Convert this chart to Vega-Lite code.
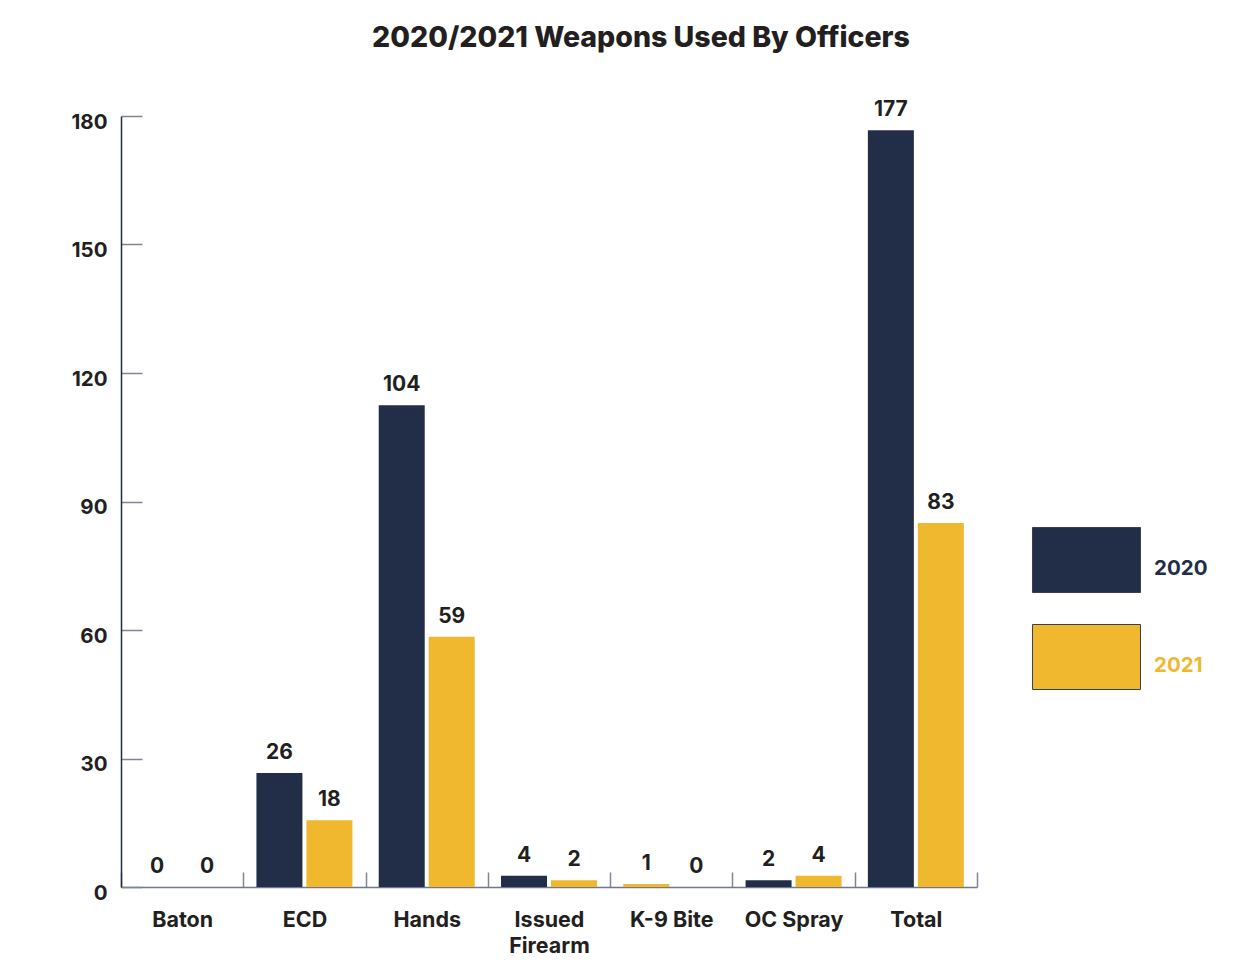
{
  "$schema": "https://vega.github.io/schema/vega-lite/v6.json",
  "autosize": {"type": "none"},
  "padding": {"left": 121, "top": 116, "right": 273, "bottom": 90},
  "width": 856,
  "height": 771,
  "background": "white",
  "title": {
    "text": "2020/2021 Weapons Used By Officers",
    "anchor": "middle",
    "frame": "group",
    "dx": 92,
    "offset": 47,
    "font": "Inter",
    "fontSize": 28.5,
    "fontWeight": 800,
    "color": "#231f20"
  },
  "config": {
    "view": {"stroke": null},
    "font": "Inter"
  },
  "data": {
    "values": [
      {"weapon": "Baton", "year": "2020", "value": 0, "label": "0"},
      {"weapon": "Baton", "year": "2021", "value": 0, "label": "0"},
      {"weapon": "ECD", "year": "2020", "value": 26.6, "label": "26"},
      {"weapon": "ECD", "year": "2021", "value": 15.6, "label": "18"},
      {"weapon": "Hands", "year": "2020", "value": 112.5, "label": "104"},
      {"weapon": "Hands", "year": "2021", "value": 58.4, "label": "59"},
      {"weapon": "Issued Firearm", "year": "2020", "value": 2.6, "label": "4"},
      {"weapon": "Issued Firearm", "year": "2021", "value": 1.6, "label": "2"},
      {"weapon": "K-9 Bite", "year": "2020", "value": 0.7, "label": "1"},
      {"weapon": "K-9 Bite", "year": "2021", "value": 0, "label": "0"},
      {"weapon": "OC Spray", "year": "2020", "value": 1.6, "label": "2"},
      {"weapon": "OC Spray", "year": "2021", "value": 2.6, "label": "4"},
      {"weapon": "Total", "year": "2020", "value": 176.7, "label": "177"},
      {"weapon": "Total", "year": "2021", "value": 85, "label": "83"}
    ]
  },
  "encoding": {
    "x": {
      "field": "weapon",
      "type": "nominal",
      "sort": null,
      "scale": {"paddingInner": 0, "paddingOuter": 0},
      "axis": {
        "title": null,
        "labelAngle": 0,
        "labelFont": "Inter",
        "labelFontSize": 21.5,
        "labelFontWeight": 700,
        "labelColor": "#231f20",
        "labelPadding": 37,
        "labelLineHeight": 26,
        "labelExpr": "datum.label == 'Issued Firearm' ? ['Issued', 'Firearm'] : datum.label",
        "tickBand": "extent",
        "tickSize": -15,
        "tickColor": "#7d8597",
        "tickWidth": 1.5,
        "domainColor": "#6f7890",
        "domainWidth": 1.5
      }
    },
    "xOffset": {
      "field": "year",
      "type": "nominal",
      "scale": {"paddingInner": 0.08, "paddingOuter": 0.263}
    },
    "y": {
      "field": "value",
      "type": "quantitative",
      "scale": {"domain": [0, 180], "nice": false},
      "axis": {
        "title": null,
        "values": [0, 30, 60, 90, 120, 150, 180],
        "grid": false,
        "labelFont": "Inter",
        "labelFontSize": 20.5,
        "labelFontWeight": 700,
        "labelColor": "#231f20",
        "labelPadding": 35,
        "labelOffset": 6,
        "tickSize": -21,
        "tickColor": "#7d8597",
        "tickWidth": 1.5,
        "domainColor": "#222d47",
        "domainWidth": 1.5
      }
    }
  },
  "layer": [
    {
      "mark": {"type": "bar"},
      "encoding": {
        "color": {
          "condition": {"test": "datum.weapon === 'K-9 Bite' && datum.year === '2020'", "value": "#efb82e"},
          "field": "year",
          "type": "nominal",
          "scale": {"domain": ["2020", "2021"], "range": ["#222d47", "#efb82e"]},
          "legend": {
            "title": null,
            "orient": "none",
            "legendX": 932.5,
            "legendY": 411,
            "padding": 0,
            "symbolType": "M-1.662,-1H1.662V1H-1.662Z",
            "symbolSize": 4225,
            "symbolStrokeColor": "#3a3f4f",
            "symbolStrokeWidth": 1,
            "symbolOpacity": 1,
            "rowPadding": 27,
            "labelOffset": 34.5,
            "labelFont": "Inter",
            "labelFontSize": 20.5,
            "labelFontWeight": 700,
            "encode": {
              "labels": {
                "update": {
                  "fill": {"signal": "datum.value === '2020' ? '#222d47' : '#efb82e'"},
                  "dy": {"value": 9}
                }
              }
            }
          }
        }
      }
    },
    {
      "mark": {
        "type": "text",
        "baseline": "alphabetic",
        "dy": -14,
        "font": "Inter",
        "fontSize": 21,
        "fontWeight": 700,
        "color": "#231f20"
      },
      "encoding": {
        "text": {"field": "label", "type": "nominal"}
      }
    }
  ]
}
